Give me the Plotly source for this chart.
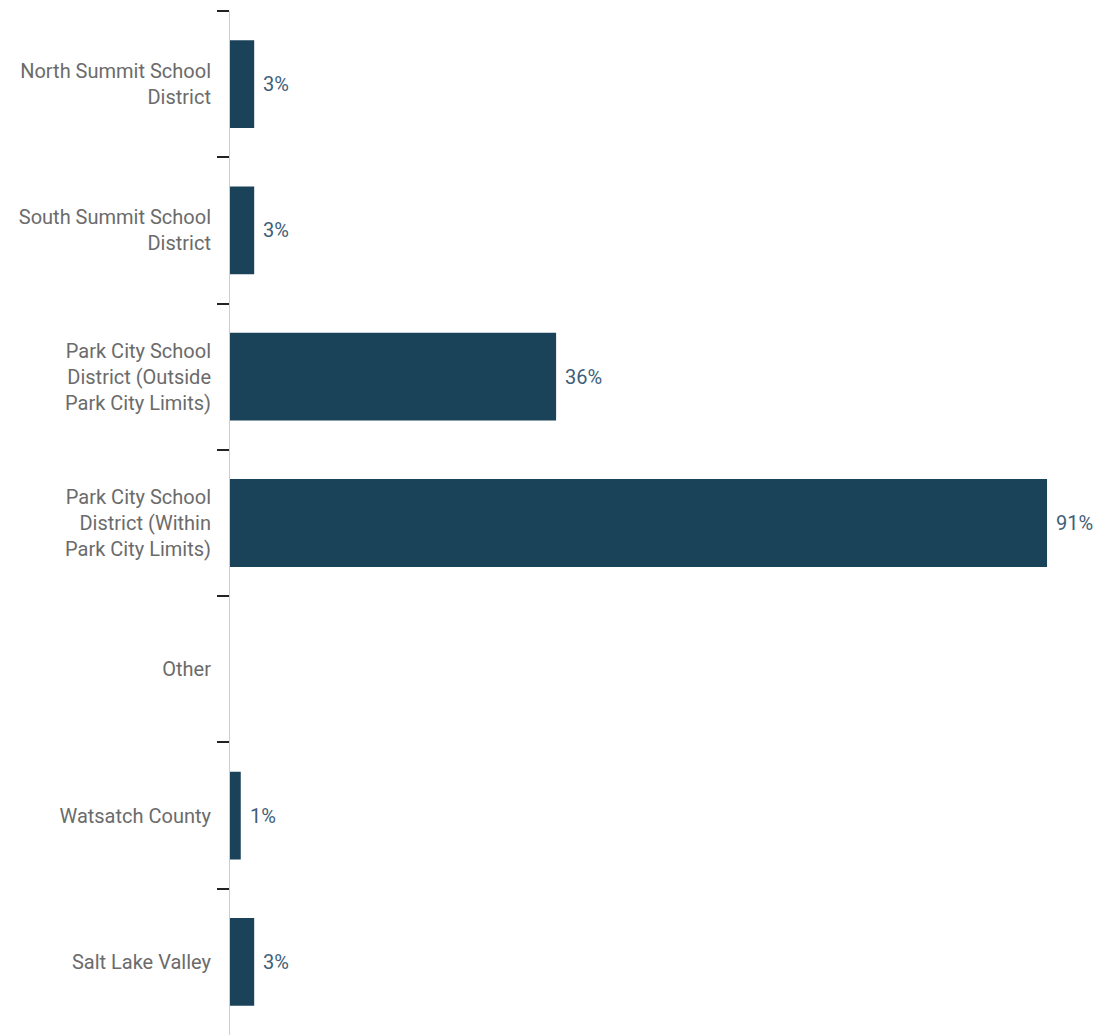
import plotly.graph_objects as go

# Share of respondents by area
categories = [
    "North Summit School<br>District",
    "South Summit School<br>District",
    "Park City School<br>District (Outside<br>Park City Limits)",
    "Park City School<br>District (Within<br>Park City Limits)",
    "Other",
    "Watsatch County",
    "Salt Lake Valley",
]
shares = [2.7, 2.7, 36.4, 91.2, 0, 1.2, 2.7]

BAR_COLOR = "#1a4259"
VALUE_COLOR = "#3f5f7a"
LABEL_COLOR = "#6b6b6b"
FONT = "Roboto"

fig = go.Figure(
    go.Bar(
        x=shares,
        y=categories,
        orientation="h",
        marker=dict(color=BAR_COLOR, line=dict(width=0)),
        hoverinfo="skip",
    )
)

# value labels just past the end of each non-empty bar
for cat, val in zip(categories, shares):
    if val > 0:
        fig.add_annotation(
            x=val,
            y=cat,
            text=f"{val:.0f}%",
            showarrow=False,
            xanchor="left",
            yanchor="middle",
            xshift=7,
            font=dict(family=FONT, size=20, color=VALUE_COLOR),
        )

fig.update_layout(
    width=1102,
    height=1035,
    margin=dict(l=230, r=3, t=11, b=0),
    paper_bgcolor="white",
    plot_bgcolor="white",
    bargap=0.4,
    showlegend=False,
    font=dict(family=FONT, size=20, color=LABEL_COLOR),
)

fig.update_xaxes(
    range=[0, 97],
    showgrid=False,
    zeroline=False,
    showticklabels=False,
    ticks="",
    showline=False,
)

fig.update_yaxes(
    categoryorder="array",
    categoryarray=categories,
    autorange="reversed",
    showgrid=False,
    zeroline=False,
    showline=True,
    linecolor="#cccccc",
    linewidth=1,
    ticks="outside",
    tickson="boundaries",
    ticklen=12,
    tickwidth=2,
    tickcolor="#222222",
    ticklabelstandoff=14,
    tickfont=dict(family=FONT, size=20, color=LABEL_COLOR),
)

fig.write_html("out.html")
